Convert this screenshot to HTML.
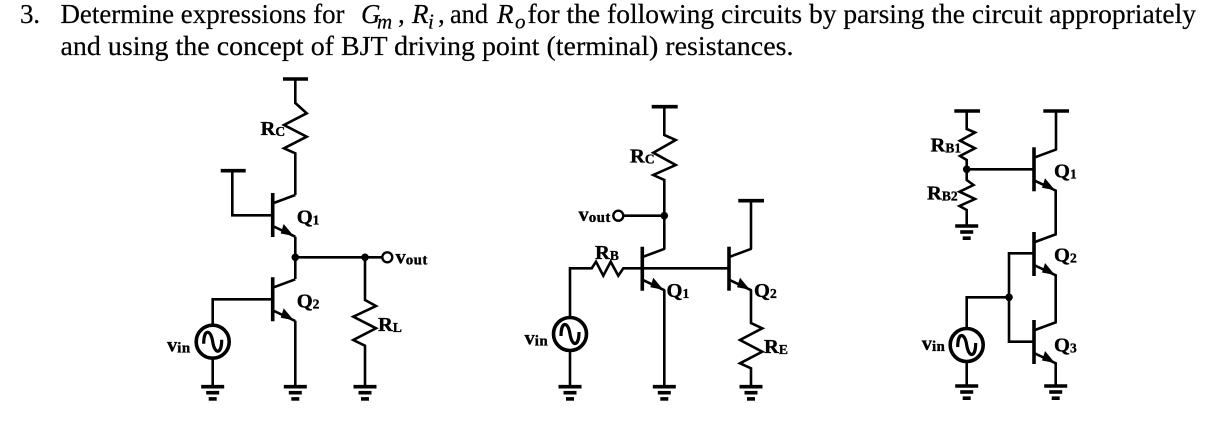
<!DOCTYPE html>
<html>
<head>
<meta charset="utf-8">
<style>
html,body{margin:0;padding:0;background:#fff;width:1226px;height:440px;overflow:hidden}
svg{display:block}
.w{fill:none;stroke:#000;stroke-width:2.6;stroke-linejoin:miter}
.b{fill:none;stroke:#000;stroke-width:3.6}
.h{font-family:"Liberation Serif",serif;font-size:27px;fill:#000;stroke:#000;stroke-width:.2}
.i{font-style:italic}
.l{font-family:"Liberation Serif",serif;font-weight:bold;font-size:20.5px;fill:#000;stroke:#000;stroke-width:.35}
.l tspan{font-size:13.5px}
.l tspan.t{font-size:15px;letter-spacing:.4px}
</style>
</head>
<body>
<svg width="1226" height="440" viewBox="0 0 1226 440" xmlns="http://www.w3.org/2000/svg">
<defs>
<g id="q">
<path class="b" d="M0 0V44"/>
<path class="w" d="M1 10L22.6 2M1 33.5L22.6 43.7"/>
<path d="M21 43L8 40.5L11 31Z" fill="#000"/>
</g>
<g id="g">
<path class="b" d="M-11.5 0H11.5"/>
<path class="b" d="M-6.5 6H6.5"/>
<path class="b" d="M-4 12.2H4"/>
</g>
<g id="s">
<circle r="16.5" fill="#fff" stroke="#000" stroke-width="3.6"/>
<path d="M-9 2C-9 -13 -2 -13 0 0C2 13 9 13 9 -2" fill="none" stroke="#000" stroke-width="3.2"/>
</g>
</defs>

<!-- heading -->
<text class="h" x="20" y="23" textLength="20" lengthAdjust="spacing">3.</text>
<text class="h" x="60.5" y="23" textLength="284" lengthAdjust="spacingAndGlyphs">Determine expressions for</text>
<text class="h i" x="361" y="23">G</text>
<text class="h i" x="377" y="28.5" style="font-size:21px">m</text>
<text class="h" x="398" y="23">,</text>
<text class="h i" x="412" y="23">R</text>
<text class="h i" x="428" y="28.5" style="font-size:21px">i</text>
<text class="h" x="438" y="23">,</text>
<text class="h" x="450" y="23" textLength="38" lengthAdjust="spacingAndGlyphs">and</text>
<text class="h i" x="497" y="23">R</text>
<text class="h i" x="515" y="28.5" style="font-size:21px">o</text>
<text class="h" x="527.5" y="23" textLength="668.5" lengthAdjust="spacingAndGlyphs">for the following circuits by parsing the circuit appropriately</text>
<text class="h" x="60.5" y="55" textLength="733" lengthAdjust="spacingAndGlyphs">and using the concept of BJT driving point (terminal) resistances.</text>

<!-- circuit 1 -->
<path class="b" d="M283 79H308M220.7 170.7H245.7"/>
<path class="w" d="M295.3 79V103L306.7 113.3L284 125L306.7 136.7L284 148.3L295.3 153.3V195"/>
<path class="w" d="M232.3 170.7V215.3H273"/>
<use href="#q" x="272.7" y="193"/>
<path class="w" d="M295.3 236.7V279"/>
<use href="#q" x="272.7" y="277.3"/>
<path class="w" d="M295.3 257.3H382"/>
<circle cx="295.3" cy="257.3" r="3.8"/>
<circle cx="365" cy="257.3" r="3.8"/>
<circle cx="387.3" cy="257.3" r="5" fill="#fff" stroke="#000" stroke-width="2.4"/>
<path class="w" d="M273 299.3H212.7V325M212.7 358V386.7"/>
<use href="#s" x="212.7" y="341.7"/>
<path class="w" d="M295.3 320.7V386.7"/>
<path class="w" d="M365 257.3V300L376 306L353.3 316.7L376 328.3L353.3 340L365 345.7V386.7"/>
<use href="#g" x="212.7" y="386.7"/>
<use href="#g" x="295.3" y="386.7"/>
<use href="#g" x="365" y="386.7"/>
<text class="l" x="260.5" y="135">R<tspan dy="1">C</tspan></text>
<text class="l" x="296.7" y="223.3">Q<tspan dy="1">1</tspan></text>
<text class="l" x="296.7" y="307.5">Q<tspan dy="1">2</tspan></text>
<text class="l" x="395.5" y="263.5">v<tspan class="t" dy="1">out</tspan></text>
<text class="l" x="378" y="331">R<tspan dy="1">L</tspan></text>
<text class="l" x="167" y="351.5">v<tspan class="t" dy="1">in</tspan></text>

<!-- circuit 2 -->
<path class="b" d="M651.7 106.7H677.7M738.3 200.7H764"/>
<path class="w" d="M664.3 106.7V135L675.7 140L653.3 152.7L675.7 165L653.3 175L664.3 180V249"/>
<path class="w" d="M623.5 215.7H664.3"/>
<circle cx="664.3" cy="215.7" r="3.8"/>
<circle cx="618.3" cy="215.7" r="5" fill="#fff" stroke="#000" stroke-width="2.4"/>
<use href="#q" x="642.3" y="246.7"/>
<use href="#q" x="729" y="246.7"/>
<path class="w" d="M570 318V268.3H591.7L596 261.7L603.3 275.7L610.7 261.7L618.3 275.7L623.3 268.3H729"/>
<path class="w" d="M570 350V386.7"/>
<use href="#s" x="570" y="334"/>
<path class="w" d="M664.3 290V386.7"/>
<path class="w" d="M751 249V200.7"/>
<path class="w" d="M751 290V323L762.3 328.3L740 340L762.3 351.7L740 363.3L751 368.3V386.7"/>
<use href="#g" x="570" y="386.7"/>
<use href="#g" x="664.3" y="386.7"/>
<use href="#g" x="751" y="386.7"/>
<text class="l" x="630" y="162.5">R<tspan dy="1">C</tspan></text>
<text class="l" x="578.5" y="221">v<tspan class="t" dy="1">out</tspan></text>
<text class="l" x="595" y="259">R<tspan dy="1">B</tspan></text>
<text class="l" x="666.5" y="297">Q<tspan dy="1">1</tspan></text>
<text class="l" x="754" y="297">Q<tspan dy="1">2</tspan></text>
<text class="l" x="764" y="353">R<tspan dy="1">E</tspan></text>
<text class="l" x="524.5" y="344.5">v<tspan class="t" dy="1">in</tspan></text>

<!-- circuit 3 -->
<path class="b" d="M954.3 111H980M1043.3 111H1069"/>
<path class="w" d="M966.7 111V129L975 132.5L960 140.7L975 148.3L960 156L966.7 160V180L973.5 185L959.5 191.7L975 199L959.5 206L966.7 210V226"/>
<circle cx="966.7" cy="169.3" r="3.8"/>
<path class="w" d="M966.7 169.3H1034"/>
<use href="#q" x="1034" y="147.3"/>
<use href="#q" x="1034" y="232"/>
<use href="#q" x="1034" y="320"/>
<path class="w" d="M1056 150V111"/>
<path class="w" d="M1055.7 190.5V234.5"/>
<path class="w" d="M1055.7 275.2V322.5"/>
<path class="w" d="M1055.7 363.2V386"/>
<path class="w" d="M1034 253.3H1009V341.7H1034"/>
<circle cx="1009" cy="297.3" r="3.8"/>
<path class="w" d="M1009 297.3H966.7V329M966.7 361V386"/>
<use href="#s" x="966.7" y="345"/>
<use href="#g" x="966.7" y="226"/>
<use href="#g" x="966.7" y="386"/>
<use href="#g" x="1055.7" y="386"/>
<text class="l" x="930.5" y="151.7">R<tspan dy="1">B1</tspan></text>
<text class="l" x="927" y="199.5">R<tspan dy="1">B2</tspan></text>
<text class="l" x="1054" y="177.5">Q<tspan dy="1">1</tspan></text>
<text class="l" x="1054" y="261.5">Q<tspan dy="1">2</tspan></text>
<text class="l" x="1054" y="351.5">Q<tspan dy="1">3</tspan></text>
<text class="l" x="921.7" y="350">v<tspan class="t" dy="1">in</tspan></text>
</svg>
</body>
</html>
